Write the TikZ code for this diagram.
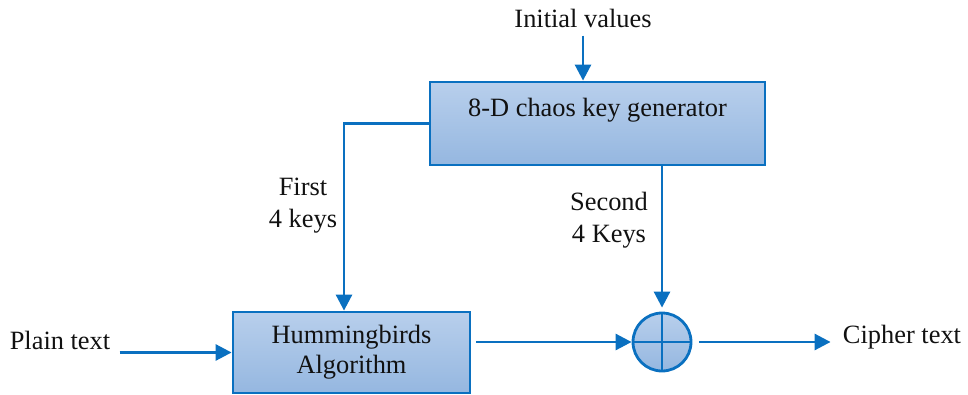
\documentclass[tikz,border=0pt]{standalone}
\usepackage{fontspec}
\setmainfont{Liberation Serif}
\usetikzlibrary{arrows.meta,positioning,calc}
\definecolor{ink}{HTML}{111111}
\definecolor{wire}{HTML}{0A70C0}
\definecolor{boxtop}{HTML}{B8CFEC}
\definecolor{boxbot}{HTML}{95B7E0}

\begin{document}
\begin{tikzpicture}[
  x=0.5pt, y=-0.5pt, color=ink,
  font=\fontsize{13.2}{16}\selectfont,
  block/.style={draw=wire, line width=1.4pt, top color=boxtop, bottom color=boxbot,
                inner sep=0pt, align=center},
  xorgate/.style={circle, draw=wire, line width=1.4pt, top color=boxtop, bottom color=boxbot,
                  minimum size=29pt, inner sep=0pt,
                  path picture={\draw[wire, line width=1.4pt]
                    (path picture bounding box.north) -- (path picture bounding box.south)
                    (path picture bounding box.west) -- (path picture bounding box.east);}},
  flow/.style={-{Triangle[length=8pt, width=8pt]}, line width=1.4pt, color=wire},
  txt/.style={align=center, inner sep=1pt},
]
\useasboundingbox (0,0) rectangle (968,395);

% blocks
\node[block, minimum width=167.5pt, minimum height=41.5pt] (keygen) at (597.5,123.5) {};
\node[txt] (keygenlbl) at (597.5,110) {8-D chaos key generator};
\node[block, minimum width=118.5pt, minimum height=40.5pt] (hum) at (351.5,352.5)
  {Hummingbirds\\[-1pt]Algorithm};
\node[xorgate] (xor) at (662,342) {};

% outer texts
\node[txt] (init) at (583,18) {Initial values};
\node[txt] (plain) at (60,340) {Plain text};
\node[txt] (cipher) at (902,337) {Cipher text};
\node[txt] (first) at (303,206) {First\\4 keys};
\node[txt] (second) at (609,220) {Second\\4 Keys};

% connections
\draw[flow, shorten <=3pt] (init.south) -- (init.south |- keygen.north);
\draw[flow] (keygen.west) -| ([xshift=-3.75pt]hum.north);
\draw[flow] (keygen.south -| xor.north) -- ([yshift=2pt]xor.north);
\draw[flow, shorten <=3.5pt] (plain.east |- hum.west) -- (hum.west);
\draw[flow, shorten <=2.5pt] (hum.east |- xor.west) -- (xor.west);
\draw[flow, shorten <=3.5pt, shorten >=5pt] (xor.east) -- (cipher.west |- xor.east);
\end{tikzpicture}
\end{document}
